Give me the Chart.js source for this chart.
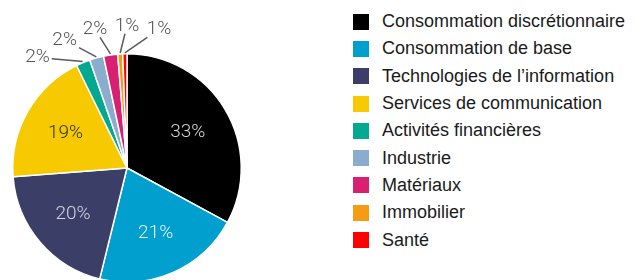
<!DOCTYPE html>
<html>
<head>
<meta charset="utf-8">
<script src="https://cdn.jsdelivr.net/npm/chart.js@4.4.1/dist/chart.umd.min.js"></script>
<style>
    html, body { margin: 0; padding: 0; background: #ffffff; overflow: hidden; }
    #page { position: relative; width: 637px; height: 280px; overflow: hidden; }
    #pieBox { position: absolute; left: 0; top: 0; width: 254px; height: 336px; }
    #legend { position: absolute; left: 353px; top: 8px; }
    #legend ul { list-style: none; margin: 0; padding: 0; }
    #legend li {
        display: flex; align-items: center; height: 27.3px;
        font-family: "Liberation Sans", Arial, sans-serif; font-size: 18px;
        color: #1a1a1a; white-space: nowrap;
    }
    #legend li span.box { width: 16px; height: 16px; margin-right: 13px; flex: none; }
</style>
</head>
<body>
<div id="page">
    <div id="pieBox"><canvas id="sectorChart"></canvas></div>
    <div id="legend"></div>
</div>
<script>

var categories = [
    'Consommation discrétionnaire',
    'Consommation de base',
    'Technologies de l\u2019information',
    'Services de communication',
    'Activités financières',
    'Industrie',
    'Matériaux',
    'Immobilier',
    'Santé'
];
var weights = [33, 21, 20, 19, 2, 2, 2, 0.7, 0.6];
var sliceColors = ['#000000', '#009fce', '#3b3e66', '#f6c900', '#00a990', '#8badcd', '#d91f72', '#f59b14', '#ff0000'];

// text colours for the labels drawn inside the big slices
var insideTextColors = ['#d6d6d6', '#e6f4fa', '#d4d5e0', '#333333'];

var labelFont = '300 19px Roboto, "Liberation Sans", sans-serif';

function pctText(v) {
    return Math.round(v) + '%';
}

var pieLabels = {
    id: 'pieLabels',
    afterDatasetsDraw: function (chart) {
        var ctx = chart.ctx;
        var arcs = chart.getDatasetMeta(0).data;
        var values = chart.data.datasets[0].data;
        var small = [];

        ctx.save();
        ctx.font = labelFont;
        ctx.textAlign = 'center';
        ctx.textBaseline = 'middle';

        arcs.forEach(function (arc, i) {
            var p = arc.getProps(['x', 'y', 'startAngle', 'endAngle', 'outerRadius'], true);
            var mid = (p.startAngle + p.endAngle) / 2;
            if (values[i] >= 5) {
                var r = p.outerRadius * 0.62;
                ctx.fillStyle = insideTextColors[i] || '#ffffff';
                ctx.fillText(pctText(values[i]), p.x + Math.cos(mid) * r, p.y + Math.sin(mid) * r);
            } else {
                small.push({ i: i, p: p, mid: mid });
            }
        });

        // thin slices: labels fanned out above the pie, with leader lines
        var n = small.length;
        small.forEach(function (s, k) {
            var p = s.p;
            var deg = 13 - (n - 1 - k) * 13;
            var a = -Math.PI / 2 + deg * Math.PI / 180;
            var tr = p.outerRadius + 28;
            var tx = p.x + Math.cos(a) * tr;
            var ty = p.y + Math.sin(a) * tr;
            var txt = pctText(values[s.i]);

            var ex = p.x + Math.cos(s.mid) * (p.outerRadius + 1);
            var ey = p.y + Math.sin(s.mid) * (p.outerRadius + 1);

            // start the line where it leaves the text box
            var hw = ctx.measureText(txt).width / 2 + 2;
            var hh = 8;
            var dx = ex - tx, dy = ey - ty;
            var t = Math.min(Math.abs(dx) > 0 ? hw / Math.abs(dx) : 99, Math.abs(dy) > 0 ? hh / Math.abs(dy) : 99);
            var sx = tx + dx * t, sy = ty + dy * t;

            ctx.strokeStyle = '#5a5a5a';
            ctx.lineWidth = 1.5;
            ctx.beginPath();
            ctx.moveTo(sx, sy);
            ctx.lineTo(ex, ey);
            ctx.stroke();

            ctx.fillStyle = '#555555';
            ctx.fillText(txt, tx, ty);
        });
        ctx.restore();
    }
};

var htmlLegend = {
    id: 'htmlLegend',
    afterUpdate: function (chart) {
        var box = document.getElementById('legend');
        box.innerHTML = '';
        var ul = document.createElement('ul');
        var items = chart.options.plugins.legend.labels.generateLabels(chart);
        items.forEach(function (item) {
            var li = document.createElement('li');
            var sw = document.createElement('span');
            sw.className = 'box';
            sw.style.background = item.fillStyle;
            li.appendChild(sw);
            li.appendChild(document.createTextNode(item.text));
            ul.appendChild(li);
        });
        box.appendChild(ul);
    }
};

var sectorChart = new Chart(document.getElementById('sectorChart').getContext('2d'), {
    type: 'pie',
    data: {
        labels: categories,
        datasets: [{
            data: weights,
            backgroundColor: sliceColors,
            borderColor: '#ffffff',
            borderWidth: 1.5
        }]
    },
    options: {
        responsive: true,
        maintainAspectRatio: false,
        animation: false,
        layout: { padding: 12 },
        plugins: {
            legend: { display: false },
            tooltip: { enabled: false }
        }
    },
    plugins: [pieLabels, htmlLegend]
});
</script>
</body>
</html>
